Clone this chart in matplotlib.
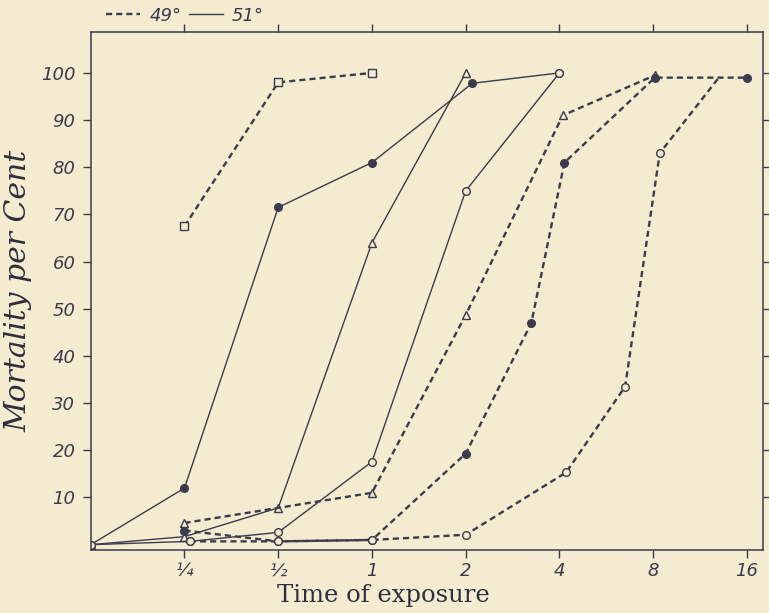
import numpy as np
import matplotlib
matplotlib.use("Agg")
import matplotlib.pyplot as plt
from matplotlib.lines import Line2D

# exposure time (0 = origin of the chart) and mortality per cent
# 51 degrees (solid lines)
t_s1 = [0, 0.25, 0.5, 1, 2.1, 4]
m_s1 = [0, 12, 71.5, 81, 97.8, 100]
t_s2 = [0, 0.25, 0.5, 1, 2]
m_s2 = [0, 1.7, 7.8, 64, 100]
t_s3 = [0, 0.26, 0.5, 1, 2, 4]
m_s3 = [0, 0.7, 2.6, 17.6, 75, 100]

# 49 degrees (dashed lines)
t_d1 = [0.25, 0.5, 1]
m_d1 = [67.5, 98, 100]
t_d2 = [0.25, 1, 2, 4.1, 8.1]
m_d2 = [4.6, 11, 48.7, 91, 99.5]
t_d3 = [0.25, 0.5, 1, 2, 3.25, 4.15, 8.1, 16]
m_d3 = [3, 0.7, 1, 19.3, 47, 81, 99, 99]
t_d4 = [0.26, 0.5, 1, 2, 4.2, 6.5, 8.4, 13]
m_d4 = [0.7, 0.7, 1, 2.1, 15.3, 33.5, 83, 99]

x_ticks = [0.25, 0.5, 1, 2, 4, 8, 16]
x_labels = ["¼", "½", "1", "2", "4", "8", "16"]
y_ticks = [10, 20, 30, 40, 50, 60, 70, 80, 90, 100]

paper = "#f3ecd1"
ink = "#3b3b4c"
x0 = 0.125  # where time 0 sits on the log axis


def pos(t):
    t = np.asarray(t, dtype=float)
    return np.where(t == 0, x0, t)


fig = plt.figure(figsize=(7.69, 6.13), dpi=100, facecolor=paper)
ax = fig.add_axes([0.118, 0.103, 0.874, 0.845], facecolor=paper)
ax.set_xscale("log", base=2)

solid = dict(color=ink, lw=1.0, ls="-", ms=5.5, mew=1.0, mec=ink)
dashed = dict(color=ink, lw=1.7, ls=(0, (2.6, 1.7)), ms=5.5, mew=1.0, mec=ink)

ax.plot(pos(t_s1), m_s1, marker="o", mfc=ink, **solid)
ax.plot(pos(t_s2), m_s2, marker="^", mfc=paper, **solid)
ax.plot(pos(t_s3), m_s3, marker="o", mfc=paper, **solid)

ax.plot(pos(t_d1), m_d1, marker="s", mfc=paper, **dashed)
ax.plot(pos(t_d2), m_d2, marker="^", mfc=paper, **dashed)
ax.plot(pos(t_d3), m_d3, marker="o", mfc=ink, **dashed)
ax.plot(pos(t_d4), m_d4, marker="o", mfc=paper, markevery=list(range(len(t_d4) - 1)), **dashed)

ax.set_xlim(x0, 18)
ax.set_ylim(-1.1, 108.7)

ax.set_xticks(x_ticks)
ax.set_xticklabels(x_labels, fontsize=13, style="italic", color=ink)
ax.xaxis.set_minor_locator(plt.NullLocator())
ax.set_yticks(y_ticks)
ax.set_yticklabels([str(v) for v in y_ticks], fontsize=13, style="italic", color=ink)
ax.tick_params(direction="out", length=6, width=1, color=ink, top=True, right=True)
ax.tick_params(axis="x", pad=3)
ax.tick_params(axis="y", pad=5)

for s in ax.spines.values():
    s.set_color(ink)
    s.set_linewidth(1.1)

ax.set_xlabel("Time of exposure", fontsize=17.5, family="DejaVu Serif", color="#2e2e3c")
ax.xaxis.set_label_coords(0.435, -0.066)
ax.set_ylabel("Mortality per Cent", fontsize=21.5, family="DejaVu Serif", style="italic",
              color="#2e2e3c")
ax.yaxis.set_label_coords(-0.086, 0.5)

handles = [Line2D([], [], color=ink, lw=1.7, ls=(0, (2.6, 1.7))),
           Line2D([], [], color=ink, lw=1.0)]
ax.legend(handles, ["49°", "51°"], ncol=2, loc="lower left", bbox_to_anchor=(0.012, 1.0),
          frameon=False, handlelength=1.9, handletextpad=0.5, columnspacing=0.4,
          borderaxespad=0.0, prop=dict(size=13, style="italic"), labelcolor=ink)

fig.savefig("out.png", dpi=100, facecolor=paper)
